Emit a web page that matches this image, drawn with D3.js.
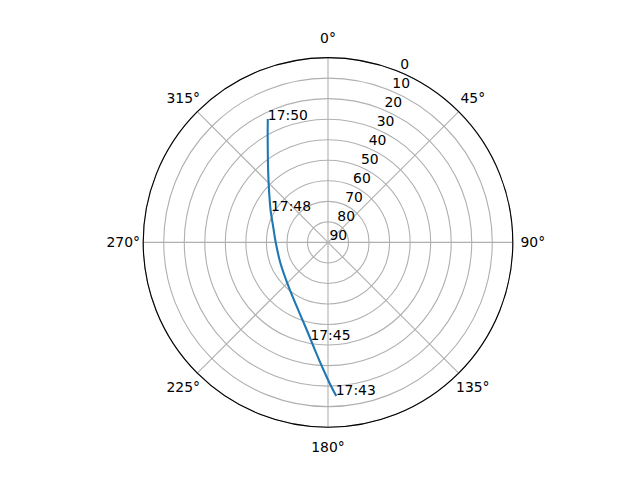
<!DOCTYPE html>
<html>
<head>
<meta charset="utf-8">
<script src="https://cdn.jsdelivr.net/npm/d3@7"></script>
<style>
  body { margin: 0; background: #fff; }
  svg { display: block; font-family: "DejaVu Sans", sans-serif; }
</style>
</head>
<body>
<svg id="chart" width="640" height="480"></svg>
<script>
// pass track, 17:43 -> 17:50 (azimuth deg clockwise from north, elevation deg)
const trackAz = [177.1, 179.0, 182.0, 186.9, 193.6, 203.7, 218.6, 228.2, 247.8, 270.4, 284.7, 299.4, 308.9, 314.1, 321.5, 326.9, 331.1, 333.8];
const trackEl = [15.6, 20.5, 27.8, 37.2, 46.1, 54.0, 60.3, 62.6, 64.8, 64.5, 62.5, 57.9, 53.3, 49.8, 43.1, 36.3, 29.2, 23.6];

const labelTimes = ["17:43", "17:45", "17:48", "17:50"];
const labelAz = [177.1, 190.2, 298.9, 333.8];
const labelEl = [15.6, 41.7, 58.3, 23.6];

const radialTicks = [0, 10, 20, 30, 40, 50, 60, 70, 80, 90];
const angleTicks = [0, 45, 90, 135, 180, 225, 270, 315];

const cx = 328, cy = 242.4, R = 184.8;
const rad = Math.PI / 180;

const svg = d3.select("#chart");
const g = svg.append("g").attr("transform", `translate(${cx},${cy})`);

const r = d3.scaleLinear().domain([90, 0]).range([0, R]);

// ring grid
g.selectAll("circle.ring").data(radialTicks.filter(d => d < 90)).enter()
    .append("circle").attr("class", "ring")
    .attr("r", d => r(d))
    .attr("fill", "none").attr("stroke", "#b0b0b0").attr("stroke-width", 1.1);

// spokes
g.selectAll("line.spoke").data(angleTicks).enter()
    .append("line").attr("class", "spoke")
    .attr("x1", 0).attr("y1", 0)
    .attr("x2", d => R * Math.sin(d * rad))
    .attr("y2", d => -R * Math.cos(d * rad))
    .attr("stroke", "#b0b0b0").attr("stroke-width", 1.1);

// outer spine
g.append("circle").attr("r", R).attr("fill", "none").attr("stroke", "#000").attr("stroke-width", 1.1);

// angle labels
g.selectAll("text.ang").data(angleTicks).enter()
    .append("text").attr("class", "ang")
    .attr("x", d => (R + 20) * Math.sin(d * rad))
    .attr("y", d => -(R + 20) * Math.cos(d * rad))
    .attr("dy", "0.36em")
    .attr("text-anchor", "middle")
    .attr("font-size", 13.9)
    .text(d => d + "°");

// radial labels along 22.5°
const la = 22.5 * rad;
g.selectAll("text.rad").data(radialTicks).enter()
    .append("text").attr("class", "rad")
    .attr("x", d => r(d) * Math.sin(la) + 1.5)
    .attr("y", d => -r(d) * Math.cos(la) - 2.5)
    .attr("font-size", 13.9)
    .text(d => d);

// track
const pts = trackAz.map((a, i) => [a * rad, r(trackEl[i])]);
const line = d3.lineRadial().angle(d => d[0]).radius(d => d[1]).curve(d3.curveCatmullRom);
g.append("path").datum(pts)
    .attr("d", line)
    .attr("fill", "none").attr("stroke", "#1f77b4").attr("stroke-width", 2.1)
    .attr("stroke-linecap", "square");

// time annotations
g.selectAll("text.time").data(labelTimes).enter()
    .append("text").attr("class", "time")
    .attr("x", (d, i) => r(labelEl[i]) * Math.sin(labelAz[i] * rad))
    .attr("y", (d, i) => -r(labelEl[i]) * Math.cos(labelAz[i] * rad))
    .attr("font-size", 13.9)
    .text(d => d);
</script>
</body>
</html>
